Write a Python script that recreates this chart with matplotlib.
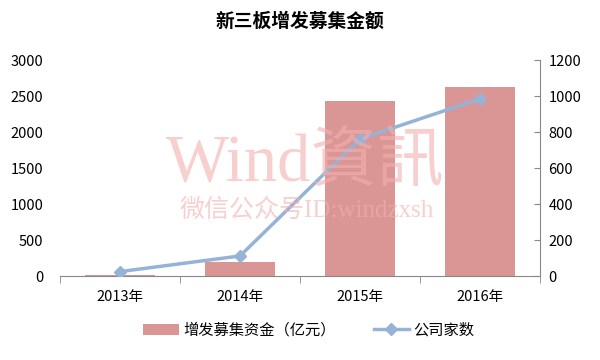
import matplotlib
matplotlib.use('Agg')
import matplotlib.pyplot as plt
import numpy as np

plt.rcParams['font.family'] = ['Noto Sans CJK SC', 'DejaVu Sans']

# data
years = ['2013年', '2014年', '2015年', '2016年']
funds = [15, 195, 2430, 2620]       # 增发募集资金（亿元）
companies = [25, 112, 762, 985]     # 公司家数

bar_color = '#D99694'
line_color = '#95B3D7'

fig = plt.figure(figsize=(6, 3.6), dpi=100)
ax = fig.add_axes([0.1, 0.233, 0.8, 0.6])
x = np.arange(len(years))

ax.bar(x, funds, width=0.58, color=bar_color, zorder=2, label='增发募集资金（亿元）')
ax.set_ylim(0, 3000)
ax.set_yticks(range(0, 3001, 500))
ax.set_xlim(-0.5, 3.5)
ax.set_xticks(x)
ax.set_xticklabels(years)
ax.set_xticks(np.arange(-0.5, 4, 1), minor=True)
ax.tick_params(axis='x', which='major', length=0, pad=10, labelsize=10.5)
ax.tick_params(axis='x', which='minor', length=5, direction='out', color='#888888')
ax.tick_params(axis='y', length=0, pad=12, labelsize=10.5)
for s in ['top', 'left', 'right']:
    ax.spines[s].set_visible(False)
ax.spines['bottom'].set_color('#888888')

ax2 = ax.twinx()
ax2.plot(x, companies, color=line_color, lw=2.5, marker='D', ms=6, zorder=3, label='公司家数')
ax2.set_ylim(0, 1200)
ax2.set_yticks(range(0, 1201, 200))
ax2.tick_params(axis='y', length=4, direction='in', pad=6, labelsize=10.5, color='#888888')
for s in ['top', 'left', 'bottom']:
    ax2.spines[s].set_visible(False)
ax2.spines['right'].set_color('#888888')

# watermark
fig.text(0.508, 0.545, 'Wind資訊', fontsize=48, color='#F4AFAF', alpha=0.6,
         ha='center', va='center', family=['Liberation Serif', 'Noto Sans CJK SC'], zorder=10)
fig.text(0.512, 0.415, '微信公众号ID:windzxsh', fontsize=18, color='#F4AFAF', alpha=0.6,
         ha='center', va='center', family=['Liberation Serif', 'Noto Sans CJK SC'], zorder=10)

fig.text(0.5, 0.94, '新三板增发募集金额', fontsize=13.5, fontweight='bold', ha='center', va='center')

h1, l1 = ax.get_legend_handles_labels()
h2, l2 = ax2.get_legend_handles_labels()
fig.legend(h1 + h2, l1 + l2, loc='center', bbox_to_anchor=(0.515, 0.083), ncol=2,
           frameon=False, fontsize=11, handlelength=2.3, columnspacing=2.5, handletextpad=0.3)

fig.savefig('out.png', dpi=100)
